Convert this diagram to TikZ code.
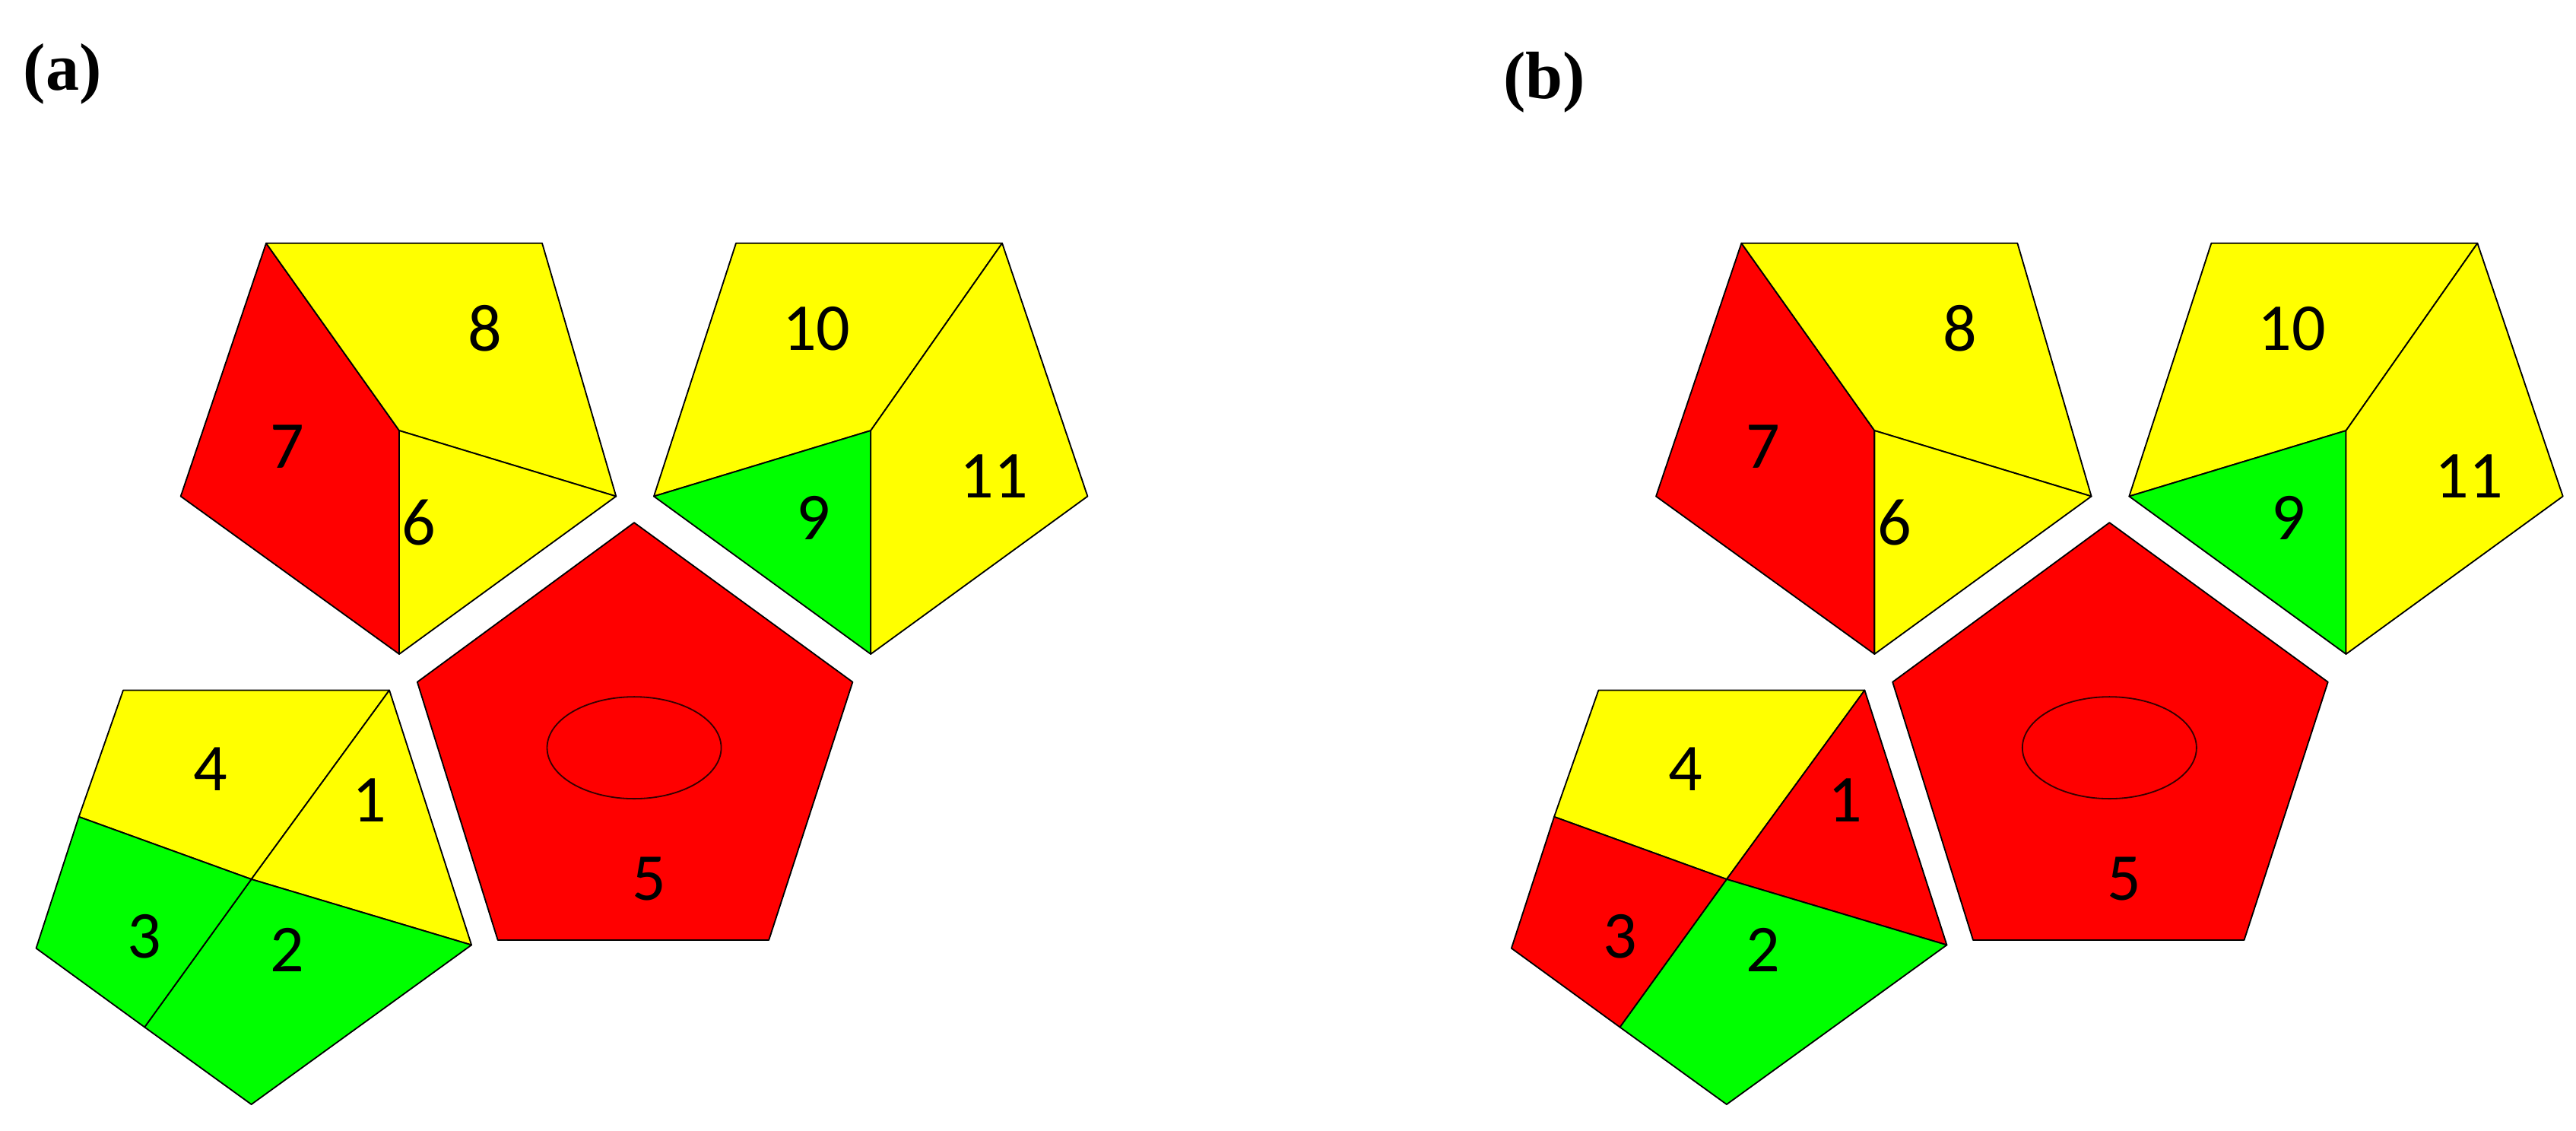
\documentclass[tikz,border=0pt]{standalone}
\usepackage{fontspec}
\setmainfont{Carlito}
\newfontfamily\lblfont{Liberation Serif}
\definecolor{cR}{HTML}{FF0000}
\definecolor{cY}{HTML}{FFFF00}
\definecolor{cG}{HTML}{00FF00}
\begin{document}
\begin{tikzpicture}[x=0.05cm,y=-0.05cm,
  face/.style={draw=black,line width=1.2pt,line join=round},
  num/.style={font=\fontsize{58}{60}\selectfont,inner sep=0pt},
  lab/.style={font=\lblfont\bfseries\fontsize{58}{60}\selectfont,inner sep=0pt}]
\useasboundingbox (0,0) rectangle (1568,688);
\node[lab] (la) at (38,45) {(a)};
\node[lab] (lb) at (940,50) {(b)};
\foreach \off/\one/\three in {0/cY/cG, 898/cR/cR}{
\begin{scope}[xshift=\off*0.05cm]
 % pentagon 7-8-6
 \fill[cR,face] (162,148) -- (243,262) -- (243,398) -- (110,302) -- cycle;
 \fill[cY,face] (162,148) -- (330,148) -- (375,302) -- (243,262) -- cycle;
 \fill[cY,face] (243,262) -- (375,302) -- (243,398) -- cycle;
 % pentagon 10-9-11
 \fill[cY,face] (448,148) -- (610,148) -- (530,262) -- (398,302) -- cycle;
 \fill[cG,face] (398,302) -- (530,262) -- (530,398) -- cycle;
 \fill[cY,face] (530,262) -- (610,148) -- (662,302) -- (530,398) -- cycle;
 % pentagon 5
 \fill[cR,face] (386,318) -- (519,415) -- (468,572) -- (303,572) -- (254,415) -- cycle;
 \draw[line width=1.2pt,draw=black!80!red] (386,455) ellipse [x radius=53, y radius=31];
 % lower pentagon
 \fill[cY,face] (75,420) -- (237,420) -- (153,535) -- (48,497) -- cycle;
 \fill[\one,face] (237,420) -- (287,575) -- (153,535) -- cycle;
 \fill[cG,face] (153,535) -- (287,575) -- (153,672) -- (88,625) -- cycle;
 \fill[\three,face] (48,497) -- (153,535) -- (88,625) -- (22,577) -- cycle;
 \node[num] at (295,200) {8};
 \node[num] at (175,272) {7};
 \node[num] at (255,318) {6};
 \node[num] at (497,200) {10};
 \node[num] at (495,315) {9};
 \node[num] at (605,290) {11};
 \node[num] at (395,535) {5};
 \node[num] at (128,468) {4};
 \node[num] at (225,487) {1};
 \node[num] at (88,570) {3};
 \node[num] at (175,578) {2};
\end{scope}}
\end{tikzpicture}
\end{document}
